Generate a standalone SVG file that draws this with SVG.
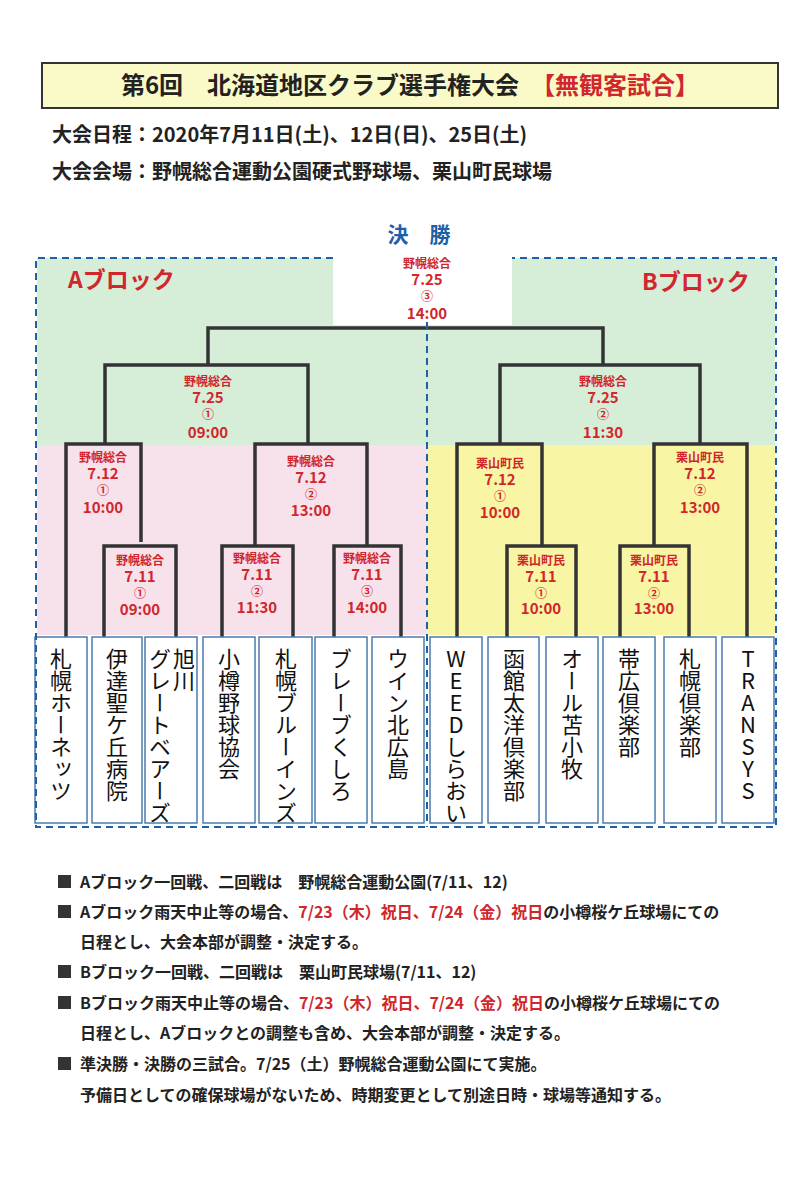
<svg xmlns="http://www.w3.org/2000/svg" width="800" height="1192" viewBox="0 0 800 1192">
<style>
text{font-family:"Noto Sans CJK JP","Liberation Sans",sans-serif}
.r{fill:#d0262c;font-weight:bold;text-anchor:middle}
.s{font-size:12px}.d{font-size:15px}.c{font-size:12px}
.ln{stroke:#333;stroke-width:3.5;fill:none}
.dash{stroke:#1f5fa8;stroke-width:2;stroke-dasharray:7,5;fill:none}
.tb{fill:#fff;stroke:#4a7cb0;stroke-width:1.5}
.tm{font-size:22px;writing-mode:vertical-rl;text-orientation:upright;fill:#111}
.n{font-size:16px;font-weight:bold;fill:#222}
.sq{fill:#333}
</style>
<rect width="800" height="1192" fill="#fff"/>
<g id="header">
<rect x="42" y="63" width="736" height="45" fill="#fafac8" stroke="#333" stroke-width="2"/>
<text x="410" y="94" font-size="24" font-weight="bold" text-anchor="middle" fill="#222">第6回　北海道地区クラブ選手権大会　<tspan fill="#d0262c">【無観客試合】</tspan></text>
<text x="52" y="142" font-size="20" font-weight="bold" fill="#222">大会日程：2020年7月11日(土)、12日(日)、25日(土)</text>
<text x="52" y="179" font-size="20" font-weight="bold" fill="#222">大会会場：野幌総合運動公園硬式野球場、栗山町民球場</text>
</g>
<g id="backgrounds">
<rect x="37" y="258" width="296" height="187" fill="#d6edd8"/>
<rect x="512" y="258" width="263" height="187" fill="#d6edd8"/>
<rect x="333" y="325" width="179" height="120" fill="#d6edd8"/>
<rect x="37" y="445" width="390" height="190" fill="#f7e1ea"/>
<rect x="427" y="445" width="348" height="190" fill="#f8f5a4"/>
</g>
<text x="419" y="242" font-size="21" font-weight="bold" fill="#1f5fa8" text-anchor="middle">決　勝</text>
<text x="68" y="288" font-size="23" font-weight="bold" fill="#d0262c">Aブロック</text>
<text x="642" y="290" font-size="23" font-weight="bold" fill="#d0262c">Bブロック</text>
<g id="connectors">
<path class="ln" d="M208 365V328H603V365"/>
<path class="ln" d="M105 444V365H308V444"/>
<path class="ln" d="M500 444V365H700V444"/>
<path class="ln" d="M66 637V444H141V542"/>
<path class="ln" d="M104 637V546H176V637"/>
<path class="ln" d="M255 546V444H367V546"/>
<path class="ln" d="M222 637V546H293V637"/>
<path class="ln" d="M334 637V546H401V637"/>
<path class="ln" d="M457 637V444H542V546"/>
<path class="ln" d="M507 637V546H576V637"/>
<path class="ln" d="M654 546V444H747V637"/>
<path class="ln" d="M620 637V546H689V637"/>
</g>
<g id="labels">
<text class="r"><tspan x="427" y="268" class="s">野幌総合</tspan><tspan x="427" y="285" class="d">7.25</tspan><tspan x="427" y="301" class="c">③</tspan><tspan x="427" y="319" class="d">14:00</tspan></text>
<text class="r"><tspan x="208" y="386" class="s">野幌総合</tspan><tspan x="208" y="403" class="d">7.25</tspan><tspan x="208" y="419" class="c">①</tspan><tspan x="208" y="438" class="d">09:00</tspan></text>
<text class="r"><tspan x="603" y="386" class="s">野幌総合</tspan><tspan x="603" y="403" class="d">7.25</tspan><tspan x="603" y="419" class="c">②</tspan><tspan x="603" y="438" class="d">11:30</tspan></text>
<text class="r"><tspan x="103" y="462" class="s">野幌総合</tspan><tspan x="103" y="479" class="d">7.12</tspan><tspan x="103" y="495" class="c">①</tspan><tspan x="103" y="513" class="d">10:00</tspan></text>
<text class="r"><tspan x="311" y="466" class="s">野幌総合</tspan><tspan x="311" y="483" class="d">7.12</tspan><tspan x="311" y="499" class="c">②</tspan><tspan x="311" y="516" class="d">13:00</tspan></text>
<text class="r"><tspan x="500" y="468" class="s">栗山町民</tspan><tspan x="500" y="485" class="d">7.12</tspan><tspan x="500" y="501" class="c">①</tspan><tspan x="500" y="518" class="d">10:00</tspan></text>
<text class="r"><tspan x="700" y="462" class="s">栗山町民</tspan><tspan x="700" y="479" class="d">7.12</tspan><tspan x="700" y="495" class="c">②</tspan><tspan x="700" y="513" class="d">13:00</tspan></text>
<text class="r"><tspan x="140" y="565" class="s">野幌総合</tspan><tspan x="140" y="582" class="d">7.11</tspan><tspan x="140" y="598" class="c">①</tspan><tspan x="140" y="615" class="d">09:00</tspan></text>
<text class="r"><tspan x="257" y="563" class="s">野幌総合</tspan><tspan x="257" y="580" class="d">7.11</tspan><tspan x="257" y="596" class="c">②</tspan><tspan x="257" y="613" class="d">11:30</tspan></text>
<text class="r"><tspan x="367" y="563" class="s">野幌総合</tspan><tspan x="367" y="580" class="d">7.11</tspan><tspan x="367" y="596" class="c">③</tspan><tspan x="367" y="613" class="d">14:00</tspan></text>
<text class="r"><tspan x="541" y="565" class="s">栗山町民</tspan><tspan x="541" y="582" class="d">7.11</tspan><tspan x="541" y="598" class="c">①</tspan><tspan x="541" y="614" class="d">10:00</tspan></text>
<text class="r"><tspan x="654" y="565" class="s">栗山町民</tspan><tspan x="654" y="582" class="d">7.11</tspan><tspan x="654" y="598" class="c">②</tspan><tspan x="654" y="614" class="d">13:00</tspan></text>
</g>
<g id="teams">
<g id="t1"><rect class="tb" x="35" y="637" width="52" height="186"/><text class="tm" x="61" y="648">札幌ホーネッツ</text></g>
<g id="t2"><rect class="tb" x="92" y="637" width="50" height="186"/><text class="tm" x="117" y="648">伊達聖ケ丘病院</text></g>
<g id="t3"><rect class="tb" x="145" y="637" width="52" height="186"/><text class="tm" x="184" y="648">旭川</text><text class="tm" x="160" y="648">グレートベアーズ</text></g>
<g id="t4"><rect class="tb" x="203" y="637" width="52" height="186"/><text class="tm" x="229" y="648">小樽野球協会</text></g>
<g id="t5"><rect class="tb" x="259" y="637" width="53" height="186"/><text class="tm" x="286" y="648">札幌ブルーインズ</text></g>
<g id="t6"><rect class="tb" x="315" y="637" width="52" height="186"/><text class="tm" x="341" y="648">ブレーブくしろ</text></g>
<g id="t7"><rect class="tb" x="372" y="637" width="52" height="186"/><text class="tm" x="398" y="648">ウイン北広島</text></g>
<g id="t8"><rect class="tb" x="430" y="637" width="52" height="186"/><text class="tm" x="456" y="648">WEEDしらおい</text></g>
<g id="t9"><rect class="tb" x="488" y="637" width="51" height="186"/><text class="tm" x="514" y="648">函館太洋倶楽部</text></g>
<g id="t10"><rect class="tb" x="546" y="637" width="52" height="186"/><text class="tm" x="572" y="648">オール苫小牧</text></g>
<g id="t11"><rect class="tb" x="603" y="637" width="52" height="186"/><text class="tm" x="629" y="648">帯広倶楽部</text></g>
<g id="t12"><rect class="tb" x="664" y="637" width="52" height="186"/><text class="tm" x="690" y="648">札幌倶楽部</text></g>
<g id="t13"><rect class="tb" x="722" y="637" width="52" height="186"/><text class="tm" x="748" y="648">TRANSYS</text></g>
</g>
<g id="frame">
<path class="dash" d="M333 258H36V827H776V258H512"/>
<path class="dash" d="M427 322V827"/>
</g>
<g id="notes">
<rect class="sq" x="58" y="875" width="13" height="13"/>
<text class="n" x="80" y="888">Aブロック一回戦、二回戦は　野幌総合運動公園(7/11、12)</text>
<rect class="sq" x="58" y="905" width="13" height="13"/>
<text class="n" x="80" y="918">Aブロック雨天中止等の場合、<tspan fill="#d0262c">7/23（木）祝日、7/24（金）祝日</tspan>の小樽桜ケ丘球場にての</text>
<text class="n" x="80" y="948">日程とし、大会本部が調整・決定する。</text>
<rect class="sq" x="58" y="965" width="13" height="13"/>
<text class="n" x="80" y="978">Bブロック一回戦、二回戦は　栗山町民球場(7/11、12)</text>
<rect class="sq" x="58" y="996" width="13" height="13"/>
<text class="n" x="80" y="1009">Bブロック雨天中止等の場合、<tspan fill="#d0262c">7/23（木）祝日、7/24（金）祝日</tspan>の小樽桜ケ丘球場にての</text>
<text class="n" x="80" y="1039">日程とし、Aブロックとの調整も含め、大会本部が調整・決定する。</text>
<rect class="sq" x="58" y="1057" width="13" height="13"/>
<text class="n" x="80" y="1070">準決勝・決勝の三試合。7/25（土）野幌総合運動公園にて実施。</text>
<text class="n" x="80" y="1101">予備日としての確保球場がないため、時期変更として別途日時・球場等通知する。</text>
</g>
</svg>
